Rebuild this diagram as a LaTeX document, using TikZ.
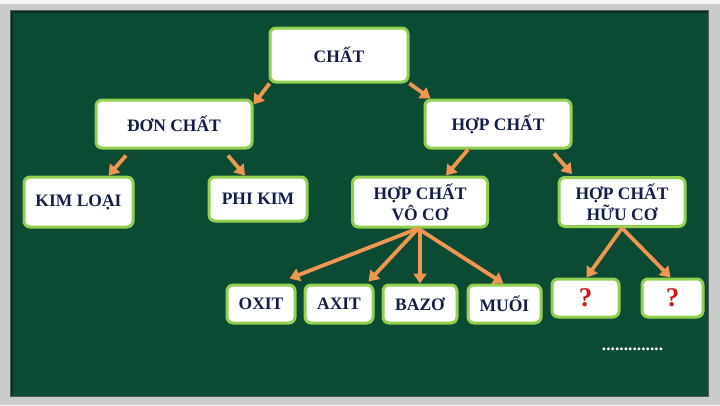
\documentclass[tikz,border=0pt]{standalone}
\usepackage{fontspec}
\setmainfont{Liberation Serif}
\usetikzlibrary{arrows.meta,calc}
\definecolor{board}{RGB}{11,74,51}
\definecolor{boardedge}{RGB}{5,50,33}
\definecolor{frame}{RGB}{200,205,201}
\definecolor{boxgreen}{RGB}{146,208,80}
\definecolor{navy}{RGB}{18,30,72}
\definecolor{arrow}{RGB}{241,150,80}
\definecolor{qred}{RGB}{208,24,24}
\tikzset{
  box/.style={draw=boxgreen, line width=3pt, fill=white, rounded corners=6pt,
    inner sep=0pt, text=navy, font=\fontsize{17.5}{21}\selectfont\bfseries, align=center},
  arr/.style={draw=arrow, line width=3.8pt, -{Triangle[length=10pt,width=13pt]}},
  qmark/.style={text=qred, font=\fontsize{27}{27}\selectfont\bfseries}
}
\begin{document}
\begin{tikzpicture}[x=1pt,y=-1pt]
\useasboundingbox (0,0) rectangle (720,405);
% frame and board
\fill[frame] (0,0) rectangle (720,405);
\fill[white!80!frame] (0,0) rectangle (720,4);
\fill[board] (10,10) rectangle (708,396);
\draw[boardedge, line width=3pt] (11.5,395) -- (11.5,11.5) -- (708,11.5);
\draw[gray!70!black, line width=0.8pt] (10,10) rectangle (708,396);
% nodes
\node[box, minimum width=138, minimum height=54] (chat) at (339,55) {CHẤT};
\node[box, minimum width=156, minimum height=48] (don) at (174,124) {ĐƠN CHẤT};
\node[box, minimum width=146, minimum height=48] (hop) at (498,124) {HỢP CHẤT};
\node[box, minimum width=109, minimum height=50] (kim) at (78.5,202) {KIM LOẠI};
\node[box, minimum width=98, minimum height=44] (phi) at (258,199) {PHI KIM};
\node[box, minimum width=135, minimum height=50] (voco) at (420,202) {HỢP CHẤT\\VÔ CƠ};
\node[box, minimum width=126, minimum height=49] (huuco) at (622,202) {HỢP CHẤT\\HỮU CƠ};
\node[box, minimum width=68, minimum height=38] (oxit) at (261,304) {OXIT};
\node[box, minimum width=68, minimum height=38] (axit) at (339,304) {AXIT};
\node[box, minimum width=74, minimum height=38] (bazo) at (420,304) {BAZƠ};
\node[box, minimum width=73, minimum height=38] (muoi) at (504.5,304) {MUỐI};
\node[box, qmark, minimum width=67, minimum height=38] (q1) at (585.5,298) {?};
\node[box, qmark, minimum width=61, minimum height=38] (q2) at (672.5,298) {?};
\node[text=white, font=\fontsize{17.5}{21}\selectfont\bfseries, inner sep=0pt, anchor=base] (dots) at (632.5,350) {..............};
% arrows
\draw[arr] ($(chat.south west)+(1,0)$) -- ($(don.north east)+(0,6)$);
\draw[arr] (chat.south east) -- ($(hop.north west)+(7,0)$);
\draw[arr] ($(don.south)+(-48,6)$) -- ($(kim.north)+(30,0)$);
\draw[arr] ($(don.south)+(54,6)$) -- ($(phi.north)+(-13,0)$);
\draw[arr] ($(hop.south)+(-30,0)$) -- ($(voco.north)+(26,0)$);
\draw[arr] ($(hop.south)+(56,4)$) -- ($(huuco.north)+(-50,-2)$);
\draw[arr] ($(voco.south)+(-2,0)$) -- ($(oxit.north east)+(-7,-5)$);
\draw[arr] ($(voco.south)+(-2,0)$) -- ($(axit.north east)+(-6,-2)$);
\draw[arr] (voco.south) -- (bazo.north);
\draw[arr] ($(voco.south)+(-2,0)$) -- ($(muoi.north)+(-1,0)$);
\draw[arr] (huuco.south) -- ($(q1.north)+(1,0)$);
\draw[arr] (huuco.south) -- ($(q2.north)+(-2,0)$);
\end{tikzpicture}
\end{document}
